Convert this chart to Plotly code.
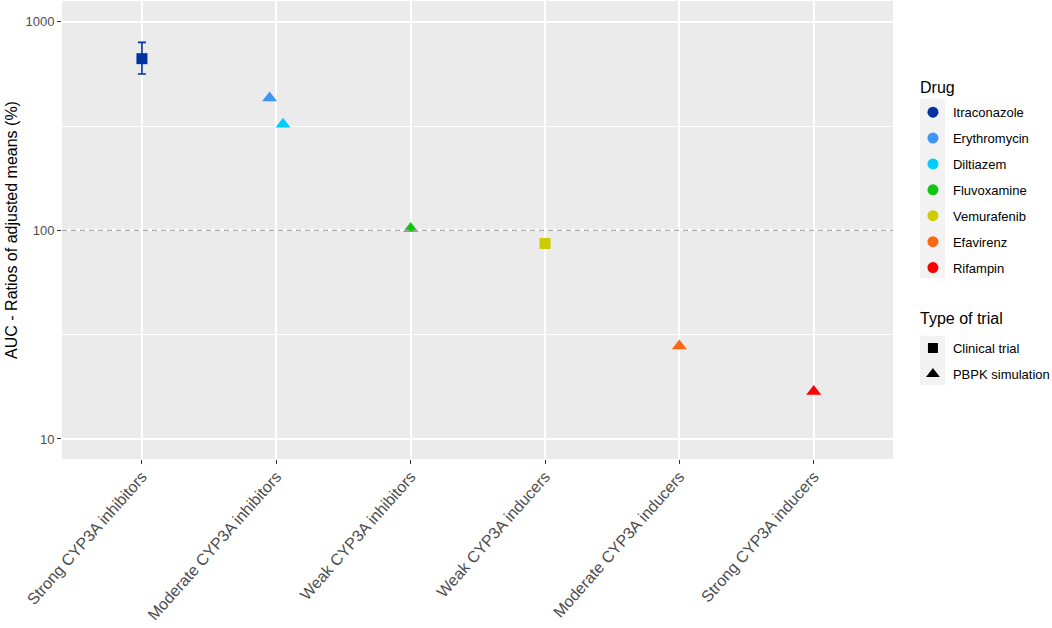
#!/usr/bin/env python3
"""
AUC ratio of adjusted means by CYP3A perpetrator class (log scale)
"""

import plotly.graph_objects as go

categories = [
    "Strong CYP3A inhibitors",
    "Moderate CYP3A inhibitors",
    "Weak CYP3A inhibitors",
    "Weak CYP3A inducers",
    "Moderate CYP3A inducers",
    "Strong CYP3A inducers",
]

drugs = ["Itraconazole", "Erythromycin", "Diltiazem", "Fluvoxamine",
         "Vemurafenib", "Efavirenz", "Rifampin"]
drug_class = [
    "Strong CYP3A inhibitors",
    "Moderate CYP3A inhibitors",
    "Moderate CYP3A inhibitors",
    "Weak CYP3A inhibitors",
    "Weak CYP3A inducers",
    "Moderate CYP3A inducers",
    "Strong CYP3A inducers",
]
trial_type = ["Clinical trial", "PBPK simulation", "PBPK simulation",
              "PBPK simulation", "Clinical trial", "PBPK simulation",
              "PBPK simulation"]
auc_ratio = [666, 431, 323, 102.2, 86.6, 27.9, 16.9]
ci_upper = [797, None, None, None, None, None, None]
ci_lower = [562, None, None, None, None, None, None]

trial_types = ["Clinical trial", "PBPK simulation"]
y_ticks = [10, 100, 1000]
reference_line = 100

# styling
drug_colors = ["#00339F", "#3D96F5", "#00CCFF", "#11C611",
               "#CCCC00", "#FF6611", "#FF0000"]
trial_symbols = {"Clinical trial": "square", "PBPK simulation": "triangle-up"}
trial_sizes = {"Clinical trial": 11, "PBPK simulation": 13}
DODGE = 0.1
FONT = "Liberation Sans, Arial, sans-serif"

fig = go.Figure()

# dodge drugs that share a category
for i, drug in enumerate(drugs):
    cat = drug_class[i]
    same = [j for j, c in enumerate(drug_class) if c == cat]
    k = same.index(i)
    xpos = categories.index(cat) + (k - (len(same) - 1) / 2) * DODGE

    err = None
    if ci_upper[i] is not None:
        err = dict(
            type="data", symmetric=False,
            array=[ci_upper[i] - auc_ratio[i]],
            arrayminus=[auc_ratio[i] - ci_lower[i]],
            color=drug_colors[i], thickness=1.6, width=4,
        )

    fig.add_trace(
        go.Scatter(
            x=[xpos], y=[auc_ratio[i]], mode="markers",
            marker=dict(symbol=trial_symbols[trial_type[i]],
                        size=trial_sizes[trial_type[i]],
                        color=drug_colors[i], line=dict(width=0)),
            error_y=err, showlegend=False, name=drug,
        )
    )

# legend: Drug
for i, drug in enumerate(drugs):
    fig.add_trace(
        go.Scatter(
            x=[None], y=[None], mode="markers", name=drug,
            marker=dict(symbol="circle", size=11, color=drug_colors[i]),
            legend="legend", legendgroup=drug,
        )
    )

# legend: Type of trial
for t in trial_types:
    fig.add_trace(
        go.Scatter(
            x=[None], y=[None], mode="markers", name=t,
            marker=dict(symbol=trial_symbols[t], size=trial_sizes[t] - 1,
                        color="black"),
            legend="legend2", legendgroup=t,
        )
    )

fig.add_hline(y=reference_line,
              line=dict(color="#A8A8A8", width=1.2, dash="5px,4px"),
              layer="above")

# grey key backgrounds behind legend symbols
for y0, y1 in [(0.395, 0.786), (0.1616, 0.2686)]:
    fig.add_shape(type="rect", xref="paper", yref="paper",
                  x0=1.0325, x1=1.0626, y0=y0, y1=y1,
                  fillcolor="#F2F2F2", line=dict(width=0), layer="below")

# legend titles
for text, ypos in [("Drug", 0.812), ("Type of trial", 0.3057)]:
    fig.add_annotation(text=text, xref="paper", yref="paper",
                       x=1.030, y=ypos, xanchor="left", yanchor="middle",
                       showarrow=False, font=dict(size=16, color="black"))

fig.update_layout(
    width=1052, height=628,
    paper_bgcolor="white",
    plot_bgcolor="#EBEBEB",
    font=dict(family=FONT, color="black"),
    margin=dict(l=62, r=159, t=1, b=169, autoexpand=False),
    xaxis=dict(
        tickmode="array",
        tickvals=list(range(len(categories))),
        ticktext=categories,
        range=[-0.595, len(categories) - 1 + 0.59],
        tickangle=-48.5,
        tickfont=dict(size=16, color="#4D4D4D"),
        ticklabelstandoff=-3,
        ticks="outside", ticklen=4, tickcolor="#333333", tickwidth=1,
        showgrid=True, gridcolor="white", gridwidth=2,
        zeroline=False, showline=False,
    ),
    yaxis=dict(
        type="log",
        range=[0.904, 3.1],
        tickmode="array",
        tickvals=y_ticks,
        ticktext=[str(v) for v in y_ticks],
        tickfont=dict(size=13, color="#4D4D4D"),
        ticks="outside", ticklen=4, tickcolor="#333333", tickwidth=1,
        showgrid=True, gridcolor="white", gridwidth=2,
        minor=dict(tickmode="array", tickvals=[31.62, 316.2], showgrid=True,
                   gridcolor="white", gridwidth=1, ticks=""),
        zeroline=False, showline=False,
        title=dict(text="AUC - Ratios of adjusted means (%)",
                   font=dict(size=16, color="black"), standoff=3),
    ),
    legend=dict(
        font=dict(size=13),
        x=1.024, xanchor="left", y=0.790, yanchor="top",
        tracegroupgap=6, bgcolor="rgba(0,0,0,0)",
        itemclick=False,
    ),
    legend2=dict(
        font=dict(size=13),
        x=1.024, xanchor="left", y=0.275, yanchor="top",
        tracegroupgap=6, bgcolor="rgba(0,0,0,0)",
        itemclick=False,
    ),
)

# page body has a default 8px margin; drop it so the figure sits at the origin
fig.write_html("out.html", config={"displayModeBar": False},
               post_script="document.body.style.margin='0px';")
